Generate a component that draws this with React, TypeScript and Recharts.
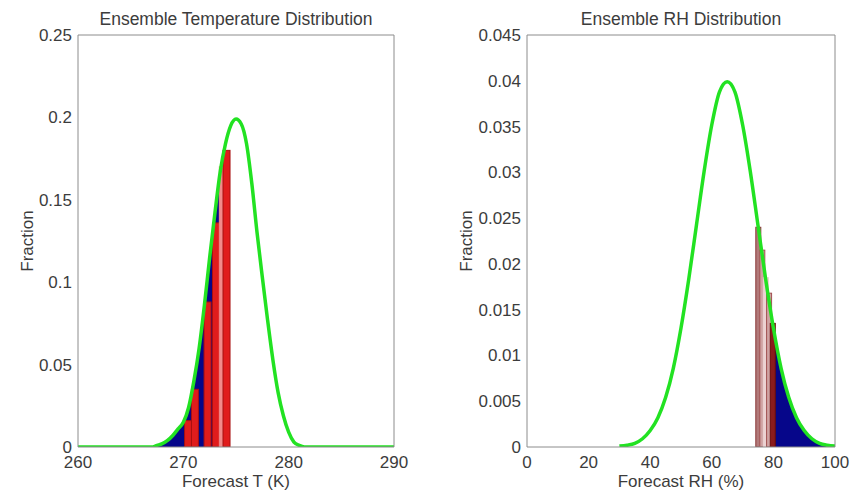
import React from 'react';
import {
  ComposedChart,
  Line,
  Area,
  Bar,
  XAxis,
  YAxis,
  Label,
} from 'recharts';

// Ensemble temperature (K)
const tempX = [
  260, 260.5, 261, 261.5, 262, 262.5, 263, 263.5, 264, 264.5, 265, 265.5, 266, 266.5, 267, 267.5,
  268, 268.5, 269, 269.5, 270, 270.5, 271, 271.5, 272, 272.5, 273, 273.5, 274, 274.5, 275, 275.5,
  276, 276.5, 277, 277.5, 278, 278.5, 279, 279.5, 280, 280.5, 281, 281.5, 282, 282.5, 283, 283.5,
  284, 284.5, 285, 285.5, 286, 286.5, 287, 287.5, 288, 288.5, 289, 289.5, 290,
];
const tempFrac = [
  0, 0, 0, 0, 0, 0, 0, 0, 0, 0, 0, 0, 0, 0, 0, 0.001,
  0.002, 0.004, 0.007, 0.011, 0.015, 0.024, 0.04, 0.06, 0.086, 0.115, 0.142, 0.167, 0.184, 0.195, 0.199, 0.196,
  0.184, 0.16, 0.13, 0.103, 0.077, 0.053, 0.033, 0.019, 0.009, 0.003, 0.001, 0, 0, 0, 0, 0,
  0, 0, 0, 0, 0, 0, 0, 0, 0, 0, 0, 0, 0,
];
const tempMemberX = [270.45, 271.1, 272.3, 273.1, 273.75, 274.1];
const tempMemberFrac = [0.016, 0.035, 0.088, 0.136, 0.17, 0.18];
const tempMemberKind = ['red', 'red', 'red', 'red', 'pale', 'red'];
const tempTailMax = 274;
const tempXTicks = [260, 270, 280, 290];
const tempYTicks = [0, 0.05, 0.1, 0.15, 0.2, 0.25];

// Ensemble RH (%)
const rhX = [
  30, 32.5, 35, 37.5, 40, 42.5, 45, 47.5, 50, 52.5, 55, 57.5, 60, 62.5, 65,
  67.5, 70, 72.5, 75, 77.5, 80, 82.5, 85, 87.5, 90, 92.5, 95, 97.5, 100,
];
const rhFrac = [
  0.0001, 0.0002, 0.0004, 0.0009, 0.0018, 0.0032, 0.0054, 0.0086, 0.013, 0.0183, 0.0242, 0.0301, 0.0352, 0.0388, 0.0399,
  0.0388, 0.0352, 0.0301, 0.0242, 0.0183, 0.013, 0.0086, 0.0054, 0.0032, 0.0018, 0.0009, 0.0004, 0.0002, 0.0001,
];
const rhMemberX = [75.1, 76.4, 77.55, 78.6, 79.8];
const rhMemberFrac = [0.024, 0.0215, 0.0185, 0.0168, 0.0135];
const rhMemberKind = ['brown', 'rose', 'blush', 'rose', 'dark'];
const rhTailMin = 75;
const rhXTicks = [0, 20, 40, 60, 80, 100];
const rhYTicks = [0, 0.005, 0.01, 0.015, 0.02, 0.025, 0.03, 0.035, 0.04, 0.045];

type Row = { x: number; curve?: number; tail?: number; member?: number; kind?: string };

const tempRows: Row[] = [
  ...tempX.map((x, i) => ({ x, curve: tempFrac[i], tail: x <= tempTailMax ? tempFrac[i] : undefined })),
  ...tempMemberX.map((x, i) => ({ x, member: tempMemberFrac[i], kind: tempMemberKind[i] })),
].sort((a, b) => a.x - b.x);

const rhRows: Row[] = [
  ...rhX.map((x, i) => ({ x, curve: rhFrac[i], tail: x >= rhTailMin ? rhFrac[i] : undefined })),
  ...rhMemberX.map((x, i) => ({ x, member: rhMemberFrac[i], kind: rhMemberKind[i] })),
].sort((a, b) => a.x - b.x);

const FONT = '"Liberation Sans", Arial, sans-serif';
const TEXT = '#3c3c3c';
const AXIS = '#8c8c8c';
const GREEN = '#22e222';
const NAVY = '#06068a';

const fills: Record<string, string> = {
  red: '#e01c1c',
  pale: '#f28a8a',
  brown: '#b27a7a',
  rose: '#cfa2a2',
  blush: '#ecd2d2',
  dark: '#8a1c1c',
};
const strokes: Record<string, string> = {
  red: '#a81010',
  pale: '#f28a8a',
  brown: '#8a3a3a',
  rose: '#a05050',
  blush: '#ecd2d2',
  dark: '#6a0c0c',
};

interface PanelProps {
  rows: Row[];
  xDomain: [number, number];
  yDomain: [number, number];
  xTicks: number[];
  yTicks: number[];
  xLabel: string;
  width: number;
  yAxisWidth: number;
  labelOffset: number;
  rightMargin: number;
  barWidth: number;
}

const tickStyle = { fill: TEXT, fontSize: 17, fontFamily: FONT };

const Panel: React.FC<PanelProps> = ({
  rows, xDomain, yDomain, xTicks, yTicks, xLabel, width, yAxisWidth, labelOffset, rightMargin, barWidth,
}) => {
  // draw each ensemble member as a fixed-width bar centred on its x position
  const memberShape = (p: any) => {
    const kind = p.payload?.kind;
    if (!kind || !p.height) return <g />;
    const cx = p.x + p.width / 2;
    return (
      <rect
        x={cx - barWidth / 2}
        y={p.y}
        width={barWidth}
        height={p.height}
        fill={fills[kind]}
        stroke={strokes[kind]}
        strokeWidth={1}
      />
    );
  };

  return (
    <ComposedChart
      width={width}
      height={490}
      data={rows}
      margin={{ top: 35, right: rightMargin, bottom: 0, left: 0 }}
    >
      <XAxis
        dataKey="x"
        type="number"
        domain={xDomain}
        ticks={xTicks}
        allowDataOverflow
        height={43}
        tickLine={false}
        tickSize={0}
        tickMargin={9}
        axisLine={{ stroke: AXIS }}
        tick={tickStyle}
      >
        <Label
          value={xLabel}
          position="insideBottom"
          offset={3}
          style={{ fill: TEXT, fontSize: 17, fontFamily: FONT }}
        />
      </XAxis>
      <XAxis
        xAxisId="bottomIn"
        dataKey="x"
        type="number"
        domain={xDomain}
        ticks={xTicks}
        allowDataOverflow
        mirror
        height={6}
        tick={false}
        tickSize={5}
        tickLine={{ stroke: AXIS }}
        axisLine={false}
      />
      <XAxis
        xAxisId="top"
        orientation="top"
        dataKey="x"
        type="number"
        domain={xDomain}
        ticks={xTicks}
        allowDataOverflow
        mirror
        height={6}
        tick={false}
        tickSize={5}
        tickLine={{ stroke: AXIS }}
        axisLine={{ stroke: AXIS }}
      />
      <YAxis
        type="number"
        domain={yDomain}
        ticks={yTicks}
        allowDataOverflow
        width={yAxisWidth}
        tickLine={false}
        tickSize={0}
        tickMargin={6}
        axisLine={{ stroke: AXIS }}
        tick={tickStyle}
      >
        <Label
          value="Fraction"
          angle={-90}
          position="insideLeft"
          offset={labelOffset}
          style={{ fill: TEXT, fontSize: 17, fontFamily: FONT, textAnchor: 'middle' }}
        />
      </YAxis>
      <YAxis
        yAxisId="leftIn"
        type="number"
        domain={yDomain}
        ticks={yTicks}
        allowDataOverflow
        mirror
        width={6}
        tick={false}
        tickSize={5}
        tickLine={{ stroke: AXIS }}
        axisLine={false}
      />
      <YAxis
        yAxisId="right"
        orientation="right"
        type="number"
        domain={yDomain}
        ticks={yTicks}
        allowDataOverflow
        mirror
        width={6}
        tick={false}
        tickSize={5}
        tickLine={{ stroke: AXIS }}
        axisLine={{ stroke: AXIS }}
      />
      {/* invisible series so the box axes get drawn */}
      <Line
        xAxisId="top"
        yAxisId="right"
        dataKey="curve"
        stroke="none"
        dot={false}
        activeDot={false}
        connectNulls
        isAnimationActive={false}
      />
      <Line
        xAxisId="bottomIn"
        yAxisId="leftIn"
        dataKey="curve"
        stroke="none"
        dot={false}
        activeDot={false}
        connectNulls
        isAnimationActive={false}
      />
      <Area
        type="monotone"
        dataKey="tail"
        stroke="none"
        fill={NAVY}
        fillOpacity={1}
        connectNulls
        isAnimationActive={false}
      />
      <Bar dataKey="member" shape={memberShape} isAnimationActive={false} />
      <Line
        type="monotone"
        dataKey="curve"
        stroke={GREEN}
        strokeWidth={3.5}
        dot={false}
        connectNulls
        isAnimationActive={false}
      />
    </ComposedChart>
  );
};

const titleStyle: React.CSSProperties = {
  position: 'absolute',
  top: 9,
  fontFamily: FONT,
  fontSize: 17.5,
  lineHeight: '20px',
  color: TEXT,
  textAlign: 'center',
  whiteSpace: 'nowrap',
};

export default function App() {
  return (
    <div style={{ position: 'absolute', left: 0, top: 0, width: 858, height: 490, background: '#fff' }}>
      <div style={{ position: 'absolute', left: 0, top: 0 }}>
        <Panel
          rows={tempRows}
          xDomain={[260, 290]}
          yDomain={[0, 0.25]}
          xTicks={tempXTicks}
          yTicks={tempYTicks}
          xLabel="Forecast T (K)"
          width={430}
          yAxisWidth={78}
          labelOffset={27}
          rightMargin={36}
          barWidth={7}
        />
      </div>
      <div style={{ position: 'absolute', left: 430, top: 0 }}>
        <Panel
          rows={rhRows}
          xDomain={[0, 100]}
          yDomain={[0, 0.045]}
          xTicks={rhXTicks}
          yTicks={rhYTicks}
          xLabel="Forecast RH (%)"
          width={428}
          yAxisWidth={97}
          labelOffset={36}
          rightMargin={23}
          barWidth={5}
        />
      </div>
      <div style={{ ...titleStyle, left: 78, width: 316 }}>Ensemble Temperature Distribution</div>
      <div style={{ ...titleStyle, left: 527, width: 308 }}>Ensemble RH Distribution</div>
    </div>
  );
}
